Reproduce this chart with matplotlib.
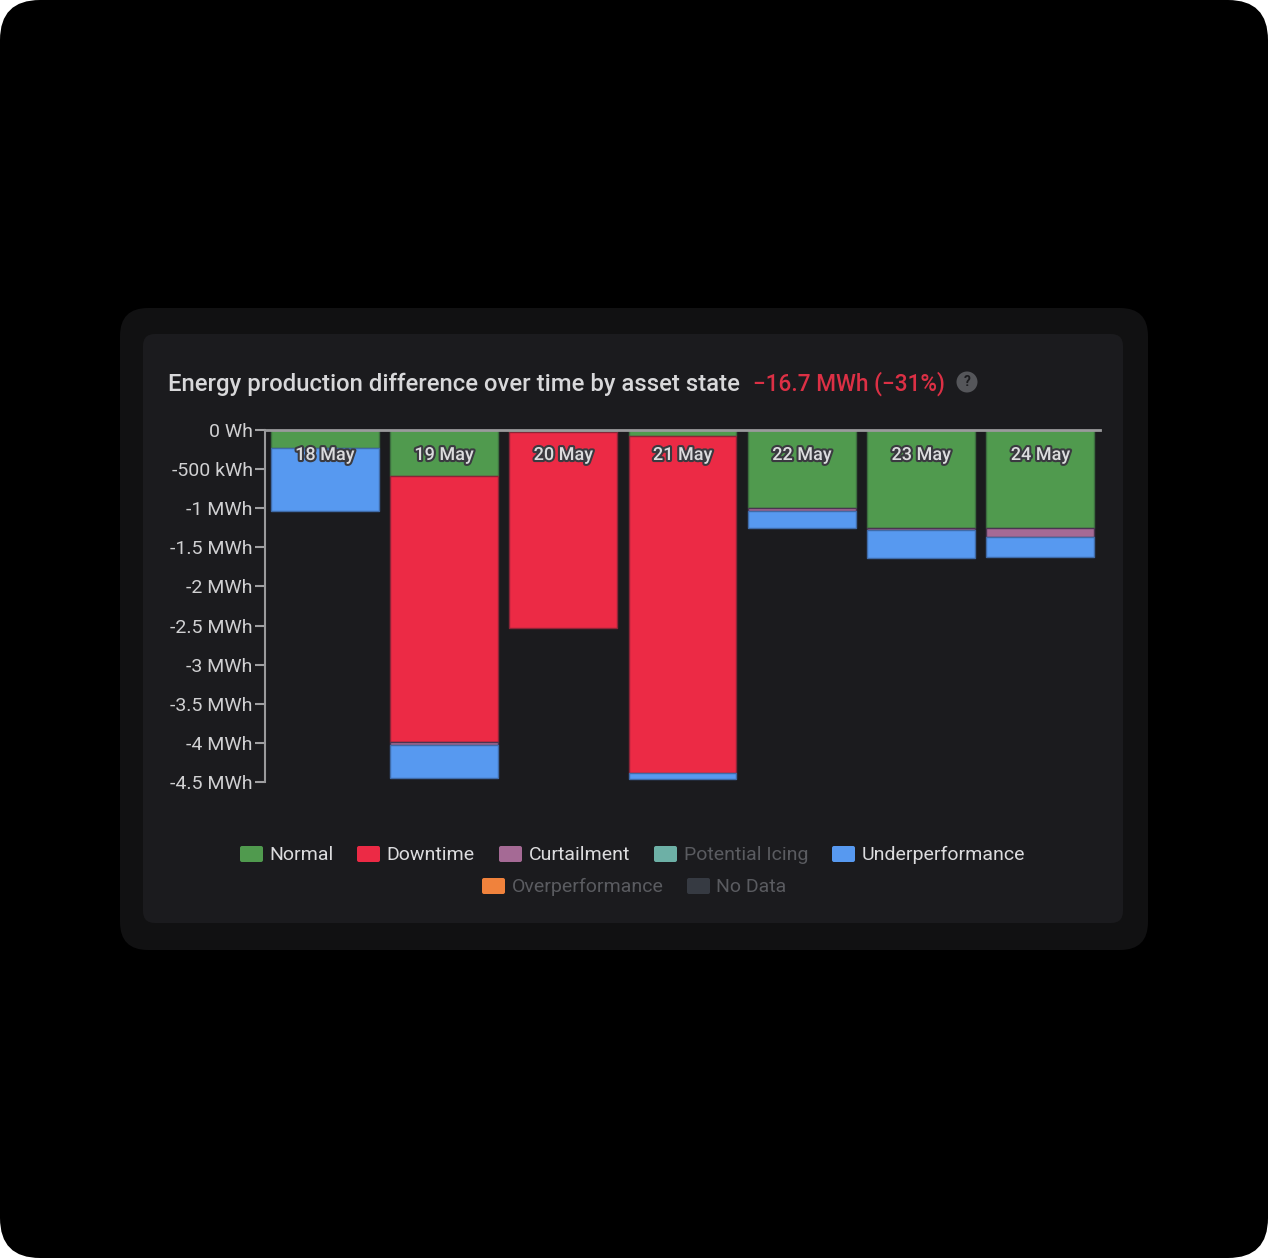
import matplotlib
matplotlib.use('Agg')
import matplotlib.pyplot as plt
import matplotlib.patheffects as pe
from matplotlib.patches import FancyBboxPatch, Circle
import numpy as np

W, H = 1268, 1258

days = ['18 May', '19 May', '20 May', '21 May', '22 May', '23 May', '24 May']

# values in MWh below zero
normal = [0.23, 0.585, 0.03, 0.08, 1.00, 1.25, 1.25]
downtime = [0, 3.405, 2.50, 4.30, 0, 0, 0]
curtailment = [0, 0.04, 0, 0, 0.03, 0.03, 0.115]
underperformance = [0.81, 0.42, 0, 0.08, 0.22, 0.35, 0.26]

ytick_vals = [0, -0.5, -1, -1.5, -2, -2.5, -3, -3.5, -4, -4.5]
ytick_labels = ['0 Wh', '-500 kWh', '-1 MWh', '-1.5 MWh', '-2 MWh', '-2.5 MWh',
                '-3 MWh', '-3.5 MWh', '-4 MWh', '-4.5 MWh']

legend_row1 = ['Normal', 'Downtime', 'Curtailment', 'Potential Icing', 'Underperformance']
legend_row2 = ['Overperformance', 'No Data']
legend_colors1 = ['#509a4e', '#ec2a45', '#a56a95', '#6db0a6', '#5799f0']
legend_colors2 = ['#f0823c', '#363a42']
legend_x1 = [240, 357, 499, 654, 832]
legend_x2 = [482, 687]
legend_active1 = [True, True, True, False, True]

plt.rcParams['font.family'] = ['Roboto', 'DejaVu Sans']

fig = plt.figure(figsize=(W / 100, H / 100), dpi=100, facecolor='white')

# page background and cards, in pixels
bg = fig.add_axes([0, 0, 1, 1])
bg.set_xlim(0, W)
bg.set_ylim(H, 0)
bg.axis('off')


def card(ax, x0, y0, x1, y1, r, color):
    ax.add_patch(FancyBboxPatch((x0 + r, y0 + r), x1 - x0 - 2 * r, y1 - y0 - 2 * r,
                                boxstyle='round,pad=%d,rounding_size=%d' % (r, r),
                                fc=color, ec='none'))


card(bg, 0, 0, W, H, 40, '#000000')
card(bg, 120, 308, 1148, 950, 28, '#111112')
card(bg, 143, 334, 1123, 923, 12, '#1b1b1e')

bg.text(168, 384, 'Energy production difference over time by asset state',
        color='#d8d8da', fontsize=17.2, fontweight='medium', va='center', ha='left')
bg.text(753, 384, '\u221216.7 MWh (\u221231%)', color='#dc3045', fontsize=16.3,
        fontweight='medium', va='center', ha='left')
bg.add_patch(Circle((967, 382), 10.5, fc='#55565a', ec='none'))
bg.text(967, 382.5, '?', color='#1b1b1e', fontsize=10, fontweight='bold', va='center', ha='center')

# chart
ax = fig.add_axes([265 / W, 1 - 782 / H, (1100 - 265) / W, (782 - 430) / H], facecolor='none')
x = np.arange(len(days))
width = 0.905

series = [
    (normal, '#509a4e', '#3c6f3f'),
    (downtime, '#ec2a45', '#8c2437'),
    (curtailment, '#a56a95', '#4a3550'),
    (underperformance, '#5799f0', '#3f6ba8'),
]
bottom = np.zeros(len(days))
for vals, color, edge in series:
    vals = np.array(vals)
    keep = vals > 0
    ax.bar(x[keep], -vals[keep], width, bottom=bottom[keep], color=color, edgecolor=edge,
           linewidth=1.0, zorder=2)
    bottom = bottom - vals

ax.set_xlim(-0.5, 6.5)
ax.set_ylim(-4.5, 0)
ax.set_yticks(ytick_vals)
ax.set_yticklabels(ytick_labels)
ax.tick_params(axis='y', colors='#a0a0a2', length=7.5, width=1.5, pad=1.5, labelsize=14,
               labelcolor='#d0d0d2')
ax.set_xticks(x)
ax.set_xticklabels([])
ax.tick_params(axis='x', direction='in', top=True, bottom=False, length=6, width=1.1,
               color='#d6d6d8')
for tick in ax.xaxis.get_major_ticks():
    tick.tick2line.set_zorder(5)

for s in ['right', 'bottom']:
    ax.spines[s].set_visible(False)
for s in ['left', 'top']:
    ax.spines[s].set_color('#9a9a9c')
    ax.spines[s].set_zorder(4)
ax.spines['left'].set_linewidth(1.5)
ax.spines['top'].set_linewidth(2)

# date labels sit on the bars with a dark halo
for i, day in enumerate(days):
    ax.annotate(day, (i, 0), xytext=(0, -25), textcoords='offset pixels', ha='center', va='center',
                color='#dcdcde', fontsize=13, fontweight='medium', zorder=6,
                path_effects=[pe.withStroke(linewidth=3, foreground='#3a3a40')])

# legend drawn by hand to keep the two centred rows
def legend_row(labels, colors, xs, active, y):
    for label, color, px, on in zip(labels, colors, xs, active):
        bg.add_patch(FancyBboxPatch((px + 2, y - 6), 19, 12,
                                    boxstyle='round,pad=2,rounding_size=2', fc=color, ec='none'))
        bg.text(px + 29.5, y + 6, label, color='#dcdcde' if on else '#5a5b60', fontsize=14,
                va='baseline', ha='left')


legend_row(legend_row1, legend_colors1, legend_x1, legend_active1, 854)
legend_row(legend_row2, legend_colors2, legend_x2, [False, False], 886)

fig.savefig('out.png', dpi=100, facecolor=fig.get_facecolor())
